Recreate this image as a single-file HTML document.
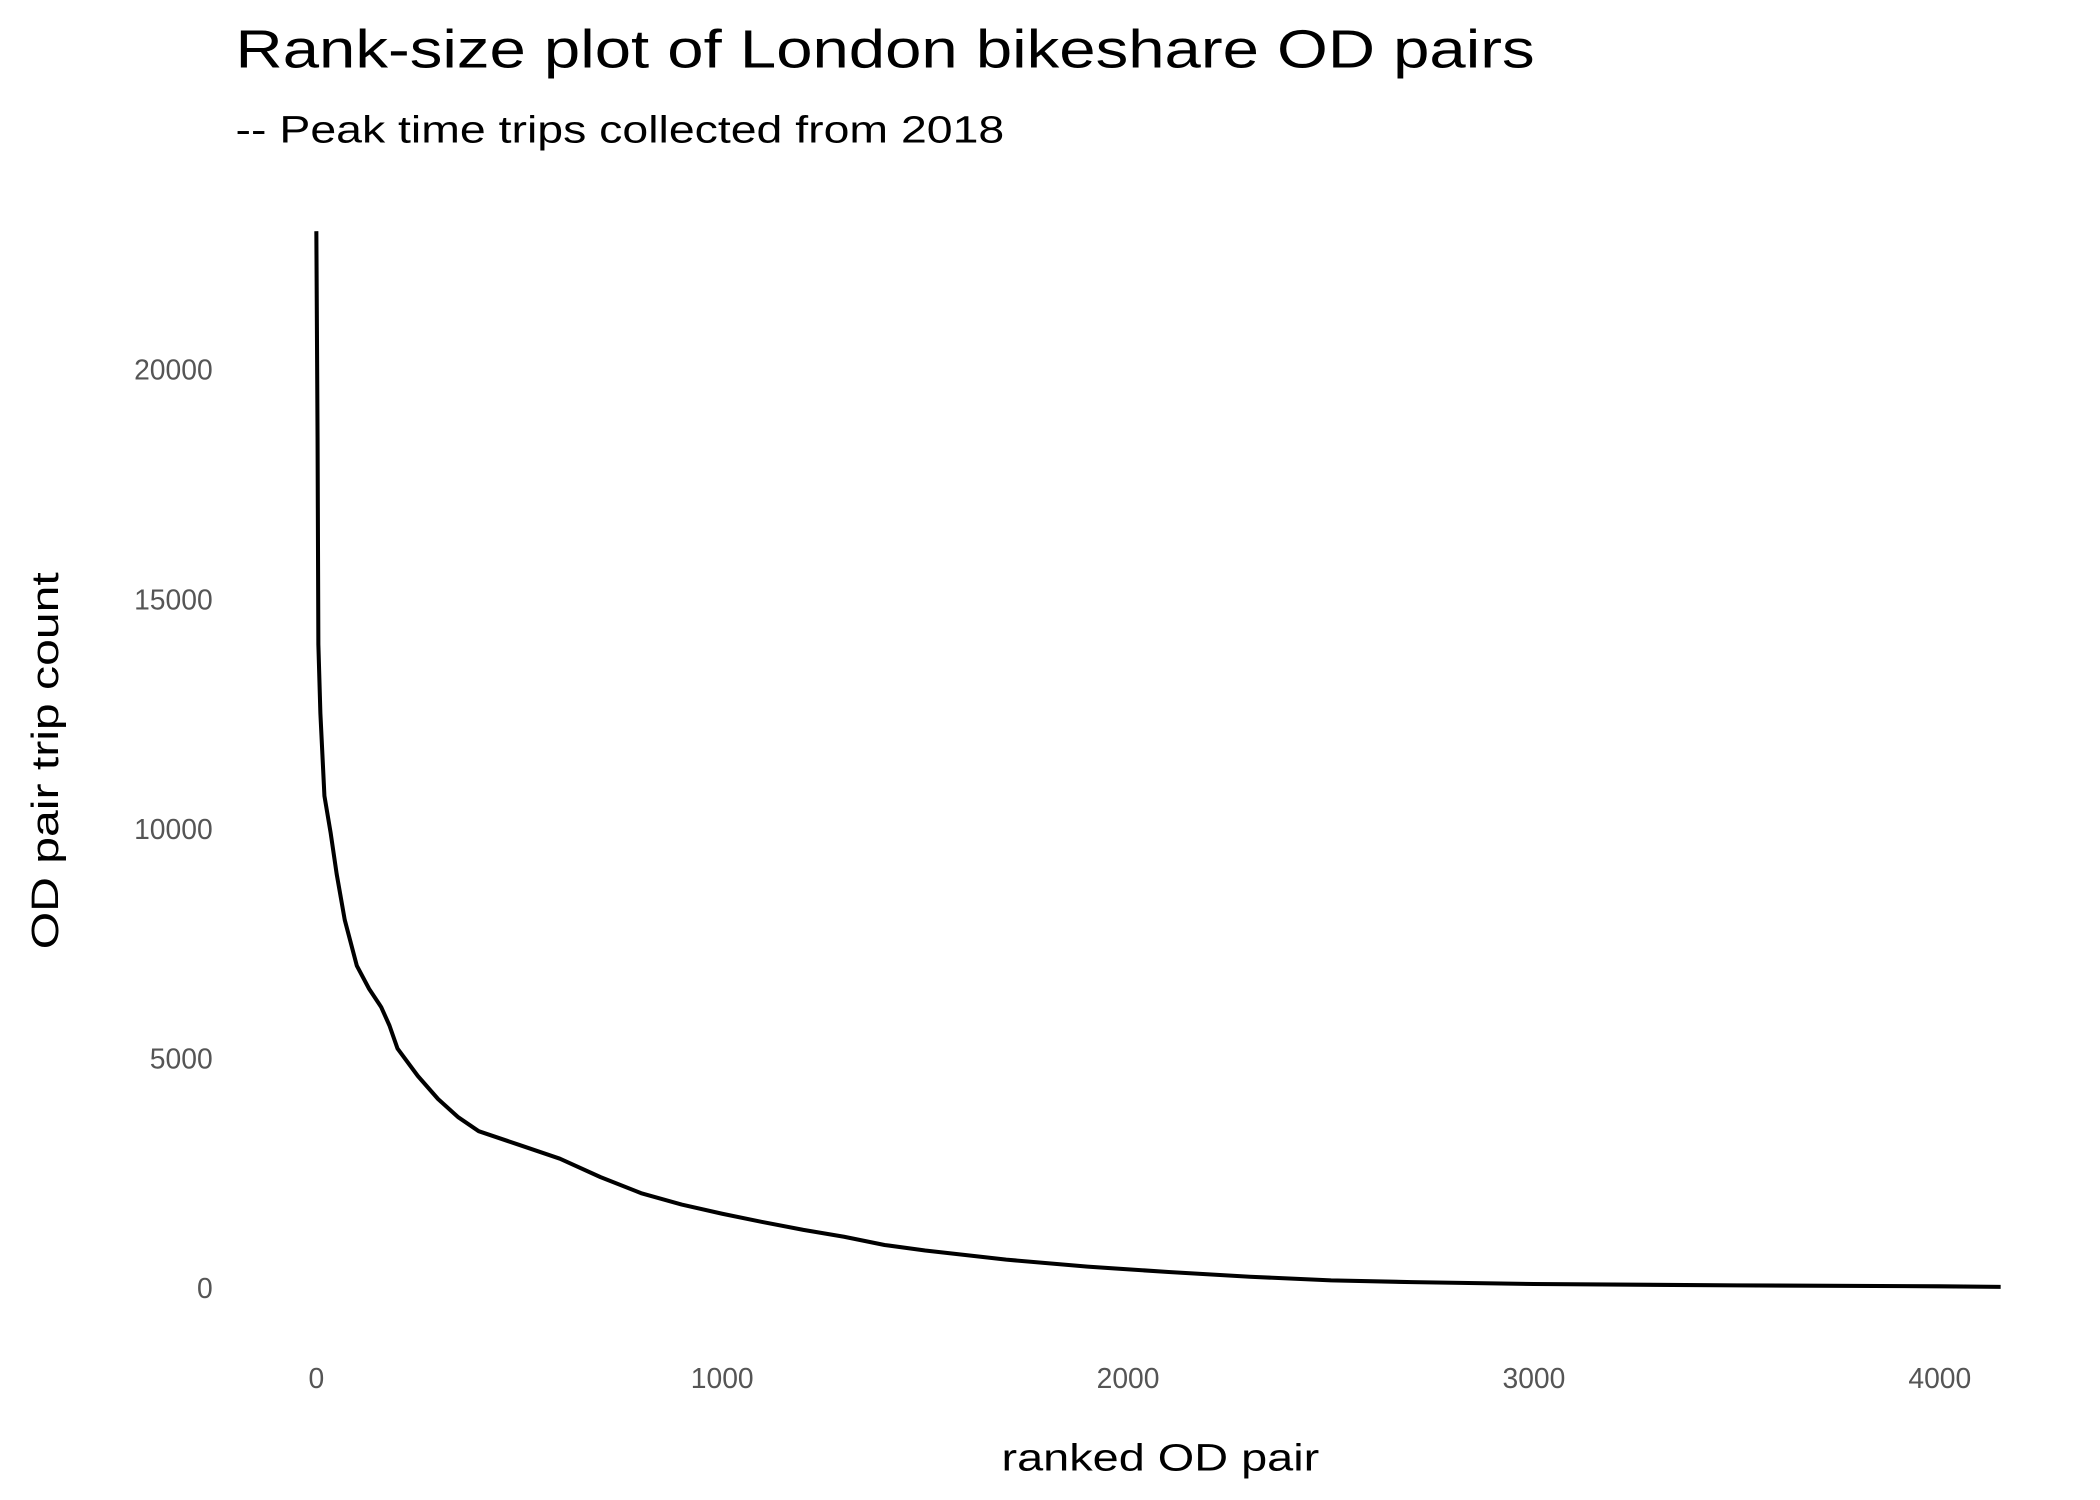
<!DOCTYPE html>
<html><head><meta charset="utf-8"><style>
html,body{margin:0;padding:0;background:#fff;}
svg{display:block;font-family:"Liberation Sans",sans-serif;}
</style></head><body>
<svg width="2100" height="1500" viewBox="0 0 1560 1114" preserveAspectRatio="none">
<text x="175" y="50" font-size="40" fill="#000" textLength="965" lengthAdjust="spacingAndGlyphs">Rank-size plot of London bikeshare OD pairs</text>
<text x="175" y="106" font-size="28" fill="#000" textLength="571" lengthAdjust="spacingAndGlyphs">-- Peak time trips collected from 2018</text>
<g id="yticks"></g><g id="xticks"></g>
<text x="862" y="1092" font-size="28" text-anchor="middle" fill="#000" textLength="236" lengthAdjust="spacingAndGlyphs">ranked OD pair</text>
<text transform="translate(43,565) rotate(-90)" font-size="28" text-anchor="middle" fill="#000" textLength="280" lengthAdjust="spacingAndGlyphs">OD pair trip count</text>
<path id="line" fill="none" stroke="#000" stroke-width="3" stroke-linejoin="round"/>
</svg>
<script>
const ranks=[0,3,5,10,20,35,50,70,100,130,160,180,200,250,300,350,400,500,600,700,800,900,1000,1100,1200,1300,1400,1500,1700,1900,2100,2300,2500,2700,3000,3500,4000,4150];
const counts=[23000,18500,14000,12500,10700,9900,9000,8000,7000,6500,6100,5700,5200,4600,4100,3700,3400,3100,2800,2400,2050,1800,1600,1420,1250,1100,920,800,600,450,330,230,150,110,70,40,20,10];
const xTicks=[0,1000,2000,3000,4000];
const yTicks=[0,5000,10000,15000,20000];
const X=v=>235+v*(1441-235)/4000;
const Y=v=>956-v*(956-274)/20000;
const ns="http://www.w3.org/2000/svg";
const yg=document.getElementById('yticks'),xg=document.getElementById('xticks');
yTicks.forEach(t=>{const e=document.createElementNS(ns,'text');
e.setAttribute('x',158);e.setAttribute('y',Y(t)+8);e.setAttribute('font-size',21);e.setAttribute('fill','#555');e.setAttribute('text-anchor','end');e.textContent=t;


yg.appendChild(e);});
xTicks.forEach(t=>{const e=document.createElementNS(ns,'text');
e.setAttribute('x',X(t));e.setAttribute('y',1031);e.setAttribute('font-size',21);e.setAttribute('fill','#555');e.setAttribute('text-anchor','middle');e.textContent=t;


xg.appendChild(e);});
document.getElementById('line').setAttribute('d',ranks.map((r,i)=>(i?'L':'M')+X(r).toFixed(1)+','+Y(counts[i]).toFixed(1)).join(''));
</script>
</body></html>
